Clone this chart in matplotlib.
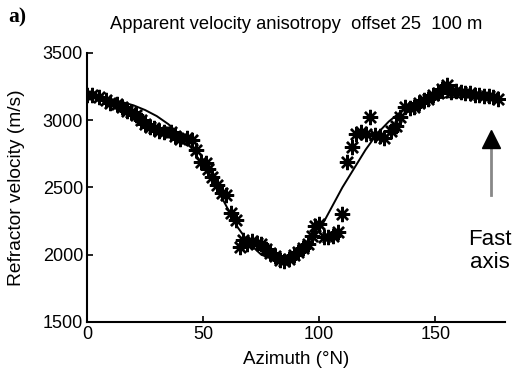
import numpy as np
import matplotlib.pyplot as plt

plt.rcParams['font.family'] = ['Liberation Sans', 'DejaVu Sans']

# measured apparent velocities (stars)
azimuth = [0, 2, 5, 8, 10, 13, 15, 17, 19, 21, 23, 25, 27, 29, 31, 33, 36, 38, 40, 43,
           45, 47, 49, 51, 52, 54, 56, 58, 60, 62, 64, 66, 67, 69, 71, 73, 75, 77, 79, 81,
           83, 85, 87, 89, 91, 93, 95, 97, 98, 100, 102, 104, 106, 108, 110, 112, 114, 116,
           118, 120, 122, 124, 126, 128, 131, 133, 135, 137, 139, 141, 143, 145, 147, 149,
           151, 153, 155, 157, 159, 161, 163, 165, 167, 169, 171, 173, 175, 177]
velocity = [3190, 3190, 3170, 3150, 3130, 3120, 3100, 3070, 3060, 3040, 3000, 2970, 2950, 2940,
            2920, 2910, 2910, 2880, 2860, 2870, 2850, 2780, 2690, 2680, 2640, 2580, 2520, 2460,
            2440, 2310, 2260, 2060, 2110, 2080, 2100, 2090, 2080, 2040, 2010, 1990, 1960, 1950,
            1970, 2000, 2020, 2050, 2080, 2140, 2210, 2230, 2130, 2130, 2140, 2170, 2300, 2690,
            2800, 2900, 2910, 2900, 3020, 2890, 2880, 2870, 2920, 2960, 3020, 3100, 3090, 3100,
            3130, 3150, 3160, 3190, 3200, 3230, 3260, 3210, 3220, 3210, 3200, 3200, 3190, 3190,
            3180, 3180, 3170, 3160]

# fitted curve
fit_az = [0, 5, 10, 15, 20, 25, 30, 35, 40, 45, 50, 55, 60, 65, 70, 75, 80, 85, 90, 95, 100,
          105, 110, 115, 120, 125, 130, 135, 140, 145, 150, 155, 160, 165, 170, 175, 178]
fit_vel = [3170, 3165, 3150, 3135, 3110, 3075, 3030, 2970, 2890, 2790, 2660, 2520, 2360, 2200,
           2080, 2000, 1965, 1960, 1985, 2060, 2180, 2340, 2500, 2640, 2780, 2900, 2990, 3060,
           3110, 3140, 3160, 3170, 3170, 3170, 3165, 3160, 3158]

# fast axis arrow (azimuth, shaft bottom, head centre)
fast_az = 174
shaft_bottom = 2440
head_y = 2863

fig = plt.figure(figsize=(5.13, 3.70), dpi=100)
ax = fig.add_axes([0.170, 0.130, 0.814, 0.727])

ax.plot(fit_az, fit_vel, color='black', lw=1.4)
ax.plot(azimuth, velocity, linestyle='none', marker=(8, 2, 0), markersize=11,
        markeredgewidth=1.7, color='black')

ax.set_xlim(0, 180)
ax.set_ylim(1500, 3500)
ax.set_xticks([0, 50, 100, 150])
ax.set_yticks([1500, 2000, 2500, 3000, 3500])
ax.tick_params(direction='in', length=4, width=1.2, labelsize=13, pad=3)
for s in ['top', 'right']:
    ax.spines[s].set_visible(False)
for s in ['left', 'bottom']:
    ax.spines[s].set_linewidth(1.5)

ax.set_xlabel('Azimuth (°N)', fontsize=13.5, labelpad=6)
ax.set_ylabel('Refractor velocity (m/s)', fontsize=13.8, labelpad=13)
ax.set_title('Apparent velocity anisotropy  offset 25  100 m', fontsize=13.2, pad=17)

ax.plot([fast_az, fast_az], [shaft_bottom, head_y], color='#888888', lw=2, clip_on=False)
ax.plot([fast_az], [head_y], marker='^', markersize=12.5, color='black', clip_on=False)
fig.text(490 / 513, 1 - 251 / 370, 'Fast\naxis', fontsize=16, ha='center', va='center',
         linespacing=1.15)

fig.text(8 / 513, 1 - 17 / 370, 'a)', fontsize=15.5, fontweight='bold',
         family='Liberation Serif', ha='left', va='center')

fig.savefig('out.png', dpi=100)
